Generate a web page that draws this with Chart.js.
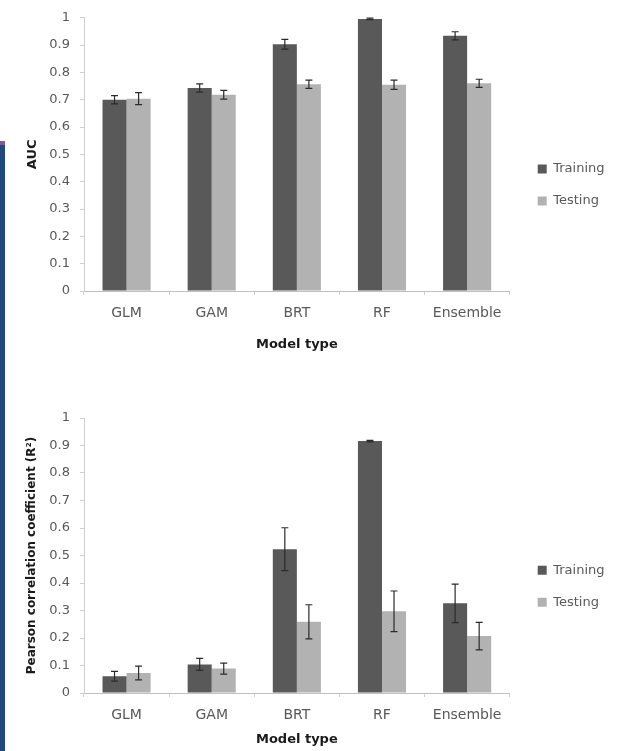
<!DOCTYPE html>
<html>
<head>
<meta charset="utf-8">
<script src="https://cdn.jsdelivr.net/npm/chart.js@4.4.1/dist/chart.umd.min.js"></script>
<style>
  html, body { margin: 0; padding: 0; background: #fff; overflow: hidden; }
  body { width: 619px; height: 751px; position: relative; }
  canvas { position: absolute; left: 0; }
  #strip { position: absolute; left: 0; top: 145px; width: 5px; bottom: 0; background: #1f497d; }
  #stripTop { position: absolute; left: 0; top: 141px; width: 5px; height: 4px; background: #7b5c9c; }
</style>
</head>
<body>
<canvas id="auc" width="619" height="368" style="top:0"></canvas>
<canvas id="r2" width="619" height="400" style="top:375px"></canvas>
<div id="stripTop"></div>
<div id="strip"></div>
<script>
// data
const categories = ['GLM', 'GAM', 'BRT', 'RF', 'Ensemble'];
const seriesNames = ['Training', 'Testing'];
const yTickLabels = ['0', '0.1', '0.2', '0.3', '0.4', '0.5', '0.6', '0.7', '0.8', '0.9', '1'];

const aucTraining = [0.700, 0.743, 0.903, 0.996, 0.934];
const aucTrainingErr = [0.015, 0.015, 0.018, 0.003, 0.015];
const aucTesting = [0.704, 0.718, 0.757, 0.755, 0.760];
const aucTestingErr = [0.022, 0.016, 0.015, 0.017, 0.015];

const r2Training = [0.061, 0.104, 0.523, 0.916, 0.326];
const r2TrainingErr = [0.018, 0.022, 0.078, 0.003, 0.070];
const r2Testing = [0.073, 0.089, 0.259, 0.297, 0.207];
const r2TestingErr = [0.025, 0.020, 0.062, 0.074, 0.050];

const FONT = "'DejaVu Sans', sans-serif";
const DARK = '#595959';
const LIGHT = '#b2b2b2';
const AXIS = '#d0d0d0';

// draws +/- error whiskers on top of each bar
const errorBars = {
  id: 'errorBars',
  afterDatasetsDraw(chart) {
    const { ctx } = chart;
    const y = chart.scales.y;
    ctx.save();
    ctx.strokeStyle = '#2b2b2b';
    ctx.lineWidth = 1.2;
    chart.data.datasets.forEach((ds, di) => {
      const meta = chart.getDatasetMeta(di);
      meta.data.forEach((bar, i) => {
        const v = ds.data[i], e = ds.errors[i];
        const top = y.getPixelForValue(v + e);
        const bot = y.getPixelForValue(v - e);
        const x = bar.x, c = 3.5;
        ctx.beginPath();
        ctx.moveTo(x, top); ctx.lineTo(x, bot);
        ctx.moveTo(x - c, top); ctx.lineTo(x + c, top);
        ctx.moveTo(x - c, bot); ctx.lineTo(x + c, bot);
        ctx.stroke();
      });
    });
    ctx.restore();
  }
};

function makeChart(id, train, trainErr, test, testErr, yTitle, yTitleSize, pad, xHeight, titleBottom) {
  return new Chart(document.getElementById(id), {
    type: 'bar',
    data: {
      labels: categories,
      datasets: [
        { label: seriesNames[0], data: train, errors: trainErr, backgroundColor: DARK,
          categoryPercentage: 0.565, barPercentage: 1 },
        { label: seriesNames[1], data: test, errors: testErr, backgroundColor: LIGHT,
          categoryPercentage: 0.565, barPercentage: 1 }
      ]
    },
    options: {
      responsive: false,
      animation: false,
      layout: { padding: pad },
      plugins: {
        tooltip: { enabled: false },
        legend: {
          position: 'right',
          labels: { boxWidth: 9, boxHeight: 9, padding: 19, color: DARK,
                    font: { family: FONT, size: 13 } }
        }
      },
      scales: {
        x: {
          grid: { display: true, drawOnChartArea: false, tickLength: 4, color: AXIS },
          border: { color: '#bfbfbf' },
          ticks: { color: DARK, padding: 10, font: { family: FONT, size: 14 } },
          title: { display: true, text: 'Model type', color: '#1a1a1a',
                   padding: { top: 0, bottom: titleBottom },
                   font: { family: FONT, size: 13, weight: 'bold' } },
          afterFit(s) { s.height = xHeight; }
        },
        y: {
          min: 0, max: 1,
          grid: { display: true, drawOnChartArea: false, tickLength: 4, color: AXIS },
          border: { color: AXIS },
          ticks: { stepSize: 0.1, color: DARK, padding: 10, font: { family: FONT, size: 13 },
                   callback: (v, i) => yTickLabels[i] },
          title: { display: true, text: yTitle, color: '#1a1a1a', padding: { top: 4, bottom: 4 },
                   font: { family: FONT, size: yTitleSize, weight: 'bold' } },
          afterFit(s) { s.width = 63; }
        },
        gap: {
          type: 'linear', position: 'right', display: true,
          grid: { display: false }, border: { display: false }, ticks: { display: false },
          afterFit(s) { s.width = 9; }
        }
      }
    },
    plugins: [errorBars]
  });
}

makeChart('auc', aucTraining, aucTrainingErr, aucTesting, aucTestingErr,
  'AUC', 13, { left: 21, top: 5, right: 4.5, bottom: 3 }, 74, 12.2);
makeChart('r2', r2Training, r2TrainingErr, r2Testing, r2TestingErr,
  'Pearson correlation coefficient (R²)', 12, { left: 21, top: 43, right: 4.5, bottom: 20.6 }, 61.4, 6.6);
</script>
</body>
</html>
